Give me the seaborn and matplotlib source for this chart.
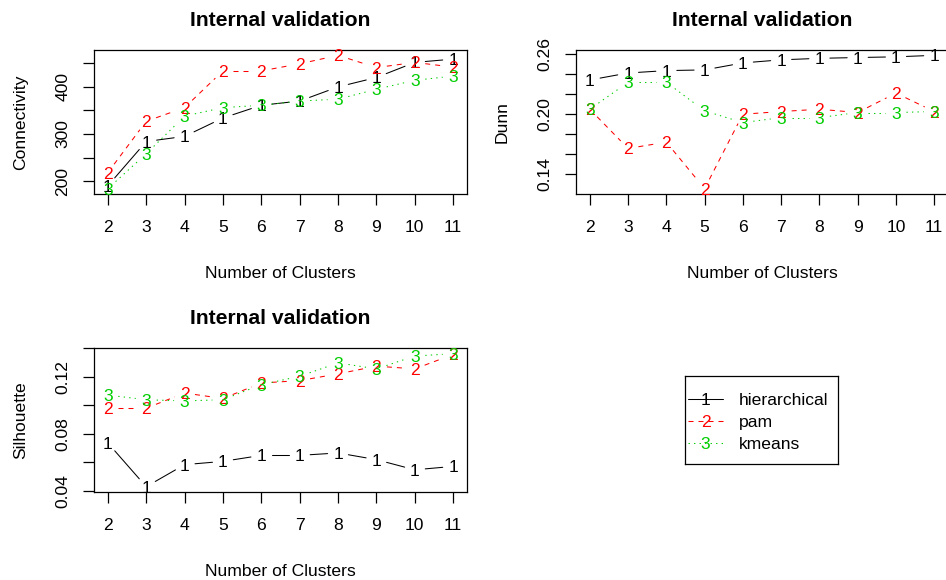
import numpy as np
import pandas as pd
import matplotlib
matplotlib.use("Agg")
import matplotlib.pyplot as plt
import seaborn as sns

# ---- data -------------------------------------------------------------
clusters = [2, 3, 4, 5, 6, 7, 8, 9, 10, 11]
methods = ["hierarchical", "pam", "kmeans"]

conn_hier = [190, 284, 295, 334, 361, 370, 400, 420, 452, 459]
conn_pam = [218, 327, 356, 434, 434, 449, 467, 441, 452, 442]
conn_kmeans = [184, 258, 338, 356, 361, 370, 374, 395, 414, 423]

dunn_hier = [0.2343, 0.2413, 0.2437, 0.2444, 0.2514, 0.2545, 0.2560, 0.2568, 0.2575, 0.2590]
dunn_pam = [0.2050, 0.1657, 0.1720, 0.1254, 0.2000, 0.2027, 0.2050, 0.2017, 0.2212, 0.2027]
dunn_kmeans = [0.2050, 0.2320, 0.2320, 0.2034, 0.1916, 0.1966, 0.1966, 0.2017, 0.2017, 0.2027]

sil_hier = [0.0736, 0.0430, 0.0584, 0.0607, 0.0649, 0.0649, 0.0666, 0.0619, 0.0548, 0.0572]
sil_pam = [0.0979, 0.0979, 0.1085, 0.1047, 0.1155, 0.1172, 0.1219, 0.1273, 0.1254, 0.1355]
sil_kmeans = [0.1071, 0.1038, 0.1030, 0.1038, 0.1144, 0.1202, 0.1296, 0.1254, 0.1344, 0.1360]

conn_ticks = [200, 250, 300, 350, 400, 450]
conn_labels = ["200", "", "300", "", "400", ""]
dunn_ticks = [0.14, 0.16, 0.18, 0.20, 0.22, 0.24, 0.26]
dunn_labels = ["0.14", "", "", "0.20", "", "", "0.26"]
sil_ticks = [0.04, 0.06, 0.08, 0.10, 0.12, 0.14]
sil_labels = ["0.04", "", "0.08", "", "0.12", ""]

colors = {"hierarchical": "#000000", "pam": "#FF0000", "kmeans": "#00CD00"}
dashes = {"hierarchical": "", "pam": (4.8, 4.8), "kmeans": (1.3, 4.0)}
symbols = {"hierarchical": "1", "pam": "2", "kmeans": "3"}

# ---- style ------------------------------------------------------------
sns.set_theme(style="white")
plt.rcParams["font.family"] = ["Liberation Sans", "DejaVu Sans"]
plt.rcParams["axes.edgecolor"] = "black"
plt.rcParams["axes.linewidth"] = 0.9

FS = 12.6
TITLE_FS = 15.2
LW = 0.75
GAP_PX = 10.5

W, H = 946, 580
fig = plt.figure(figsize=(W / 100, H / 100), dpi=100)
fig.patch.set_facecolor("white")


def px_axes(left, top, right, bottom):
    return fig.add_axes([left / W, 1 - bottom / H, (right - left) / W, (bottom - top) / H])


def r_range(values):
    lo, hi = min(values), max(values)
    pad = 0.04 * (hi - lo)
    return lo - pad, hi + pad


def gapped(ax, xs, ys):
    """Segments between consecutive points, cut back near each point."""
    pts = ax.transData.transform(np.column_stack([xs, ys]))
    inv = ax.transData.inverted()
    rows = []
    for i in range(len(pts) - 1):
        p0, p1 = pts[i], pts[i + 1]
        d = np.hypot(*(p1 - p0))
        if d <= 2 * GAP_PX:
            continue
        u = (p1 - p0) / d
        a = inv.transform(p0 + u * GAP_PX)
        b = inv.transform(p1 - u * GAP_PX)
        rows.append((i, a[0], a[1]))
        rows.append((i, b[0], b[1]))
    return rows


def panel(ax, series, ylabel, ticks, labels):
    all_vals = [v for s in series for v in s]
    xlim = r_range(clusters)
    ylim = r_range(all_vals)
    ax.set_xlim(*xlim)
    ax.set_ylim(*ylim)

    rows = []
    for m, vals in zip(methods, series):
        for seg, x, y in gapped(ax, clusters, vals):
            rows.append({"method": m, "seg": f"{m}-{seg}", "x": x, "y": y})
    df = pd.DataFrame(rows)
    sns.lineplot(data=df, x="x", y="y", hue="method", style="method",
                 units="seg", estimator=None, sort=False,
                 palette=colors, dashes=dashes, hue_order=methods,
                 style_order=methods, linewidth=LW, legend=False, ax=ax)

    for m, vals in zip(methods, series):
        for x, y in zip(clusters, vals):
            ax.text(x, y, symbols[m], color=colors[m], fontsize=FS,
                    ha="center", va="center_baseline")

    ax.set_xlim(*xlim)
    ax.set_ylim(*ylim)
    ax.set_xticks(clusters)
    ax.set_xticklabels([str(c) for c in clusters])
    ax.set_yticks(ticks)
    ax.set_yticklabels(labels, rotation=90, va="center")
    ax.tick_params(axis="both", direction="out", length=8, width=0.9,
                   color="black", labelsize=FS, labelcolor="black",
                   bottom=True, left=True)
    ax.tick_params(axis="x", pad=11)
    ax.tick_params(axis="y", pad=9)
    for sp in ax.spines.values():
        sp.set_visible(True)
        sp.set_color("black")
        sp.set_linewidth(0.9)

    h_ax = ax.get_position().height * H
    w_ax = ax.get_position().width * W
    ax.set_xlabel("Number of Clusters", fontsize=FS, color="black")
    ax.xaxis.set_label_coords(0.5, -78 / h_ax)
    ax.xaxis.label.set_verticalalignment("center_baseline")
    ax.set_ylabel(ylabel, fontsize=FS, color="black")
    ax.yaxis.set_label_coords(-75 / w_ax, 0.5)
    ax.yaxis.label.set_verticalalignment("center_baseline")
    ax.set_title("Internal validation", fontsize=TITLE_FS, fontweight="bold",
                 color="black", y=1 + 31 / h_ax, pad=0, va="center_baseline")


ax1 = px_axes(94, 50, 467, 194)
panel(ax1, [conn_hier, conn_pam, conn_kmeans], "Connectivity", conn_ticks, conn_labels)

ax2 = px_axes(576, 50, 948, 194)
panel(ax2, [dunn_hier, dunn_pam, dunn_kmeans], "Dunn", dunn_ticks, dunn_labels)

ax3 = px_axes(94, 348, 467, 492)
panel(ax3, [sil_hier, sil_pam, sil_kmeans], "Silhouette", sil_ticks, sil_labels)

# ---- legend box ---------------------------------------------------------
lg = px_axes(685, 376, 838, 464)
lg.set_xlim(0, 153)
lg.set_ylim(88, 0)
lg.set_xticks([])
lg.set_yticks([])
for sp in lg.spines.values():
    sp.set_visible(True)
    sp.set_color("black")
    sp.set_linewidth(0.9)
for i, m in enumerate(methods):
    yy = 23 + 22 * i
    ls = "-" if dashes[m] == "" else (0, dashes[m])
    lg.plot([3, 38], [yy, yy], color=colors[m], lw=LW, linestyle=ls)
    lg.text(20.5, yy, symbols[m], color=colors[m], fontsize=FS,
            ha="center", va="center_baseline")
    lg.text(54, yy, m, color="black", fontsize=FS, ha="left", va="center_baseline")

fig.savefig("out.png", dpi=100, facecolor="white")
